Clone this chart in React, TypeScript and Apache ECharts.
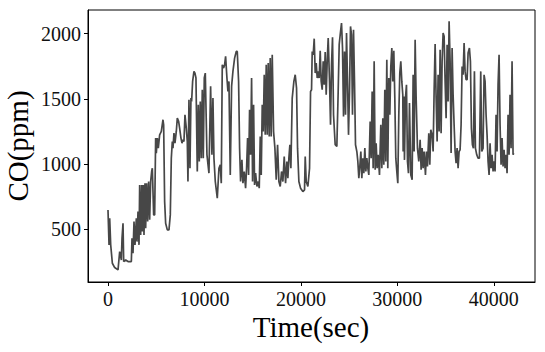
import React, { useEffect, useRef } from "react";
import * as echarts from "echarts";

const timeSec: number[] = [
  0, 107, 176, 280, 452, 694, 1039, 1212, 1384, 1454, 1557, 1626, 1833, 2075, 2420, 2489, 2593, 2697, 2800, 2938, 3007, 3111, 3215, 3284, 3387, 3491, 3560, 3663, 3732, 3836, 3905, 4009, 4112, 4216, 4320, 4423, 4527, 4596, 4734, 4837, 4941, 5010, 5114, 5217, 5355, 5528, 5701, 5770, 5873, 5977, 6150, 6322, 6460, 6564, 6668, 6737, 6840, 6944, 7082, 7185, 7323, 7427, 7565, 7669, 7773, 7876, 7980, 8118, 8221, 8290, 8394, 8498, 8601, 8670, 8774, 8912, 9016, 9120, 9257, 9361, 9465, 9568, 9672, 9776, 9879, 9983,
  10087, 10260, 10467, 10639, 10778, 10881, 10985, 11123, 11330, 11503, 11641, 11744, 11848, 11986, 12090, 12193, 12331, 12435, 12539, 12677, 12815, 12953, 13126, 13298, 13402, 13540, 13644, 13747, 13885, 13989, 14127, 14265, 14369, 14472, 14576, 14680, 14783, 14887, 14990, 15094, 15197, 15301, 15439, 15577, 15681, 15784, 15888, 15992, 16095, 16199, 16302, 16406, 16510, 16613, 16717, 16820, 16924, 17028, 17166, 17304, 17442, 17580, 17718, 17856, 17994, 18133, 18271, 18409, 18547, 18650, 18754, 18858, 18961, 19099, 19272, 19410, 19548, 19652, 19790, 19963, 20204, 20377,
  20447, 20551, 20723, 20896, 21000, 21103, 21172, 21276, 21379, 21483, 21587, 21690, 21794, 21897, 22001, 22104, 22208, 22312, 22415, 22519, 22622, 22726, 22830, 22968, 23071, 23175, 23278, 23382, 23555, 23727, 23865, 23969, 24073, 24211, 24314, 24418, 24522, 24625, 24729, 24832, 24936, 25040, 25143, 25247, 25350, 25454, 25557, 25661, 25799, 25903, 26006, 26110, 26214, 26317, 26421, 26524, 26628, 26732, 26835, 26939, 27042, 27180, 27284, 27388, 27491, 27595, 27698, 27802, 27905, 28009, 28147, 28285, 28389, 28493, 28596, 28700, 28803, 28907, 29010, 29114, 29218, 29321, 29425, 29528, 29632, 29736, 29839, 29943, 30046, 30150, 30253, 30357, 30461, 30564,
  30600, 30669, 30738, 30842, 30945, 31049, 31152, 31256, 31394, 31532, 31636, 31739, 31843, 31947, 32085, 32223, 32361, 32464, 32568, 32672, 32775, 32913, 33017, 33121, 33259, 33362, 33466, 33604, 33708, 33811, 33915, 34018, 34122, 34225, 34329, 34433, 34536, 34640, 34743, 34847, 34951, 35054, 35158, 35261, 35365, 35469, 35572, 35676, 35779, 35883, 35987, 36090, 36194, 36297, 36401, 36504, 36608, 36712, 36815, 36919, 37022, 37126, 37230, 37333, 37471, 37575, 37678, 37782, 37886, 37989, 38093, 38231, 38369, 38507, 38645, 38749, 38887, 38991, 39094, 39198, 39301, 39405, 39509, 39612, 39716, 39819, 39923, 40027, 40130, 40234, 40337, 40441, 40545, 40648, 40752, 40855, 40959, 41062, 41166, 41270, 41373, 41477, 41581, 41684, 41788, 41891, 41995, 42064,
];

const coPpm: number[] = [
  648, 380, 584, 380, 239, 206, 188, 328, 264, 431, 546, 252, 264, 252, 252, 431, 316, 559, 380, 584, 405, 636, 380, 840, 456, 840, 482, 840, 456, 853, 508, 853, 559, 866, 572, 866, 943, 968, 610, 610, 1199, 1084, 1199, 1122, 1224, 1250, 1340, 1301, 712, 546, 495, 495, 610, 1045, 1173, 1122, 1237, 1160, 1250, 1352, 1327, 1276, 1199, 1160, 1186, 1173, 1378, 1276, 1173, 866, 1493, 968, 1506, 1480, 1634, 1711, 1698, 1660, 943, 1455, 1020, 1480, 1045, 1570, 1045, 1660,
  1698, 1071, 930, 1596, 1071, 1506, 1045, 866, 738, 968, 994, 853, 1762, 1736, 1762, 1826, 1660, 1557, 1634, 917, 1596, 1711, 1813, 1864, 1864, 1634, 1122, 866, 1032, 853, 943, 815, 968, 1199, 917, 1416, 1071, 1660, 866, 1455, 840, 930, 828, 866, 815, 1212, 917, 1455, 1250, 1685, 1224, 1762, 1224, 1775, 1212, 1813, 1212, 1839, 1250, 1122, 879, 1148, 866, 828, 943, 866, 1058, 853, 1020, 892, 1045, 1148, 968, 1506, 1634, 1685, 1583, 1122, 866, 815, 789, 802,
  1058, 866, 828, 968, 1557, 1570, 1864, 1839, 1962, 1698, 1775, 1660, 1711, 1660, 1870, 1634, 1570, 1788, 1608, 1859, 1532, 1788, 1967, 1634, 1301, 1762, 1972, 1378, 1148, 1135, 1557, 1916, 1992, 2082, 1890, 1365, 1864, 1378, 2005, 1634, 1224, 1557, 2056, 1992, 1378, 2031, 1634, 1148, 1096, 1020, 892, 981, 1096, 892, 1045, 930, 1122, 943, 1045, 968, 917, 1327, 1045, 1557, 968, 1788, 956, 1160, 968, 1071, 917, 1301, 968, 1352, 994, 1570, 1020, 1800, 968, 1660, 1378, 1749, 1890, 1634, 1870, 1506, 1045, 943, 853, 1378, 1698, 1788, 1634, 1532,
  1096, 1519, 1032, 1506, 1608, 1020, 930, 1468, 917, 879, 1685, 1096, 1954, 1506, 1122, 1020, 1186, 956, 1122, 968, 1096, 917, 1096, 981, 1237, 994, 1263, 1224, 1096, 1557, 1921, 1506, 1173, 1685, 1250, 1877, 1237, 1788, 2005, 1980, 1634, 1352, 1916, 1480, 2095, 1788, 1084, 1890, 1532, 1301, 1096, 1007, 1122, 968, 1096, 1109, 1301, 1749, 1685, 1928, 1711, 1647, 1647, 1852, 1890, 1788, 1276, 1148, 1122, 1711, 1122, 1071, 1045, 1045, 1711, 1096, 1122, 1685, 1634, 1378, 1224, 1020, 917, 1160, 968, 1071, 943, 1020, 943, 1378, 1096, 1608, 1839, 1301, 994, 1199, 981, 1109, 968, 1071, 930, 1378, 1071, 1532, 1122, 1788, 1071, 1084,
];

const xTicks: number[] = [0, 10000, 20000, 30000, 40000];
const yTicks: number[] = [500, 1000, 1500, 2000];
const xTitle = "Time(sec)";
const yTitle = "CO(ppm)";

const FONT = "'Liberation Serif', 'DejaVu Serif', serif";

export default function App() {
  const ref = useRef<HTMLDivElement>(null);
  useEffect(() => {
    if (!ref.current) return;
    const chart = echarts.init(ref.current, null, { renderer: "svg" });
    const data = timeSec.map((t, i) => [t, coPpm[i]]);
    chart.setOption({
      animation: false,
      backgroundColor: "#ffffff",
      grid: {
        left: 88,
        top: 10,
        width: 447,
        height: 272,
        show: true,
        borderColor: "#000000",
        borderWidth: 1,
        backgroundColor: "transparent",
      },
      xAxis: {
        type: "value",
        min: -2073,
        max: 44270,
        axisLine: { show: true, onZero: false, lineStyle: { color: "#000", width: 1 } },
        axisTick: { show: true, length: 4, lineStyle: { color: "#000" }, customValues: xTicks },
        axisLabel: {
          show: true,
          customValues: xTicks,
          margin: 7,
          fontFamily: FONT,
          fontSize: 20,
          color: "#111",
          formatter: (v: number) => String(v),
        },
        splitLine: { show: false },
      },
      yAxis: {
        type: "value",
        min: 95,
        max: 2182,
        axisLine: { show: true, onZero: false, lineStyle: { color: "#000", width: 1 } },
        axisTick: { show: true, length: 4, lineStyle: { color: "#000" }, customValues: yTicks },
        axisLabel: {
          show: true,
          customValues: yTicks,
          margin: 7,
          fontFamily: FONT,
          fontSize: 20,
          color: "#111",
          formatter: (v: number) => String(v),
        },
        splitLine: { show: false },
      },
      graphic: [
        {
          type: "text",
          x: 311,
          y: 327,
          style: {
            text: xTitle,
            fontFamily: FONT,
            fontSize: 29,
            fill: "#000",
            textAlign: "center",
            textVerticalAlign: "middle",
          },
        },
        {
          type: "text",
          x: 18,
          y: 146,
          rotation: Math.PI / 2,
          style: {
            text: yTitle,
            fontFamily: FONT,
            fontSize: 29,
            fill: "#000",
            textAlign: "center",
            textVerticalAlign: "middle",
          },
        },
      ],
      series: [
        {
          type: "line",
          data,
          showSymbol: false,
          symbol: "none",
          lineStyle: { color: "#474747", width: 1.7 },
          clip: true,
        },
      ],
    });
    return () => chart.dispose();
  }, []);
  return (
    <div
      ref={ref}
      style={{ position: "fixed", left: 0, top: 0, width: 545, height: 352, background: "#fff" }}
    />
  );
}
